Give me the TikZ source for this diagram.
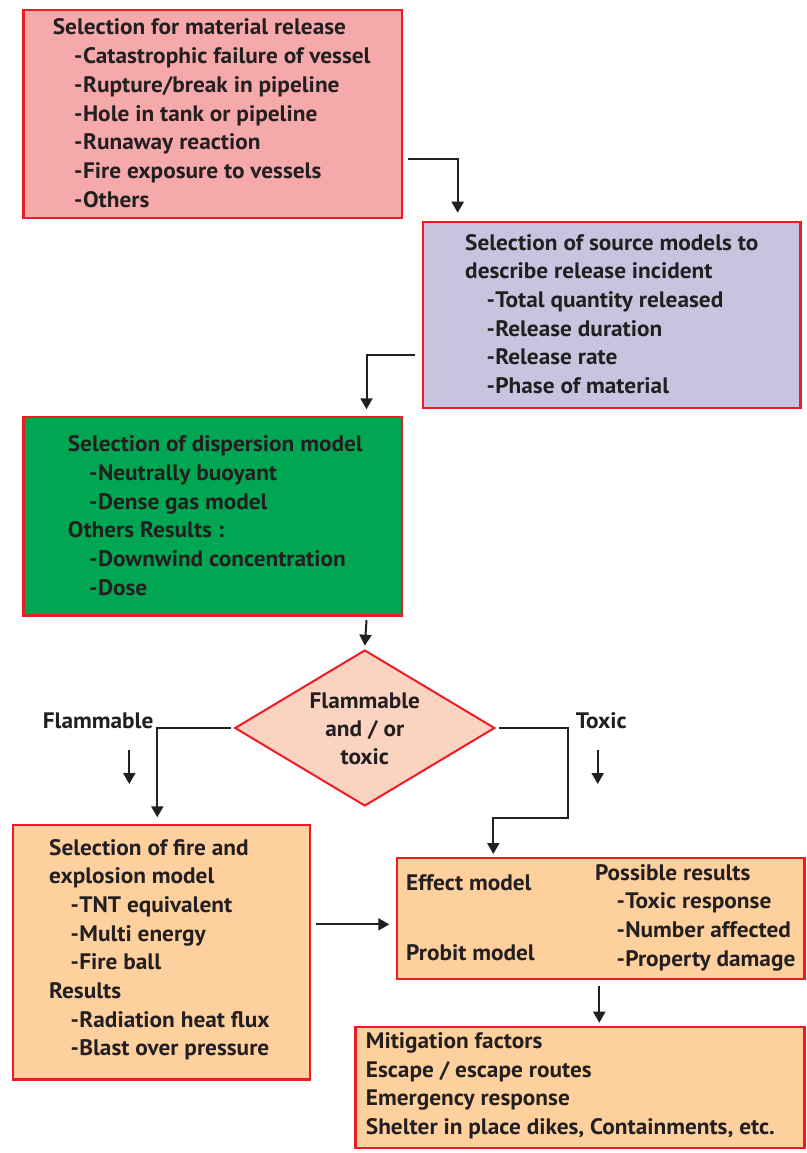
\documentclass[tikz,border=0pt]{standalone}
\usepackage{fontspec}
\setmainfont{PT Sans}[FakeStretch=1.04]
\usetikzlibrary{arrows.meta,shapes.geometric}
\definecolor{redb}{HTML}{ED1C24}
\definecolor{pinkc}{HTML}{F6A9AB}
\definecolor{lavc}{HTML}{C8C4E0}
\definecolor{greenc}{HTML}{00A651}
\definecolor{orc}{HTML}{FDD09E}
\definecolor{diac}{HTML}{FBD3C1}
\definecolor{txtc}{HTML}{231F20}
\newcommand\itm{\hspace*{21.3pt}-\kern0.5pt}
\begin{document}
\begin{tikzpicture}[x=1pt,y=-1pt,
  box/.style={draw=redb,line width=2.2pt,rectangle,inner sep=0pt,anchor=north west},
  txt/.style={inner sep=0pt,anchor=base west,text=txtc,font=\fontsize{22.4}{28.7}\selectfont\bfseries},
  arr/.style={draw=txtc,line width=2pt,-{Triangle[length=11pt,width=12pt]}}]
\useasboundingbox[fill=white] (0,0) rectangle (806,1153);
% boxes
\node[box,fill=pinkc,minimum width=378.7pt,minimum height=207.4pt] (b1) at (22.3,9.3) {};
\node[box,fill=lavc,minimum width=377.6pt,minimum height=186pt] (b2) at (421.7,220.7) {};
\node[box,fill=greenc,minimum width=378.7pt,minimum height=198.3pt] (b3) at (22.3,416) {};
\node[box,fill=orc,minimum width=297.3pt,minimum height=254.3pt] (b4) at (11.7,824) {};
\node[box,fill=orc,minimum width=407.6pt,minimum height=121pt] (b5) at (395.7,856.7) {};
\node[box,fill=orc,minimum width=449pt,minimum height=121pt] (b6) at (354.3,1025.7) {};
\node[diamond,draw=redb,line width=2pt,fill=diac,inner sep=0pt,minimum width=260pt,minimum height=156pt] (dia) at (364.8,728) {};
% texts
\node[txt] (t1) at (52.7,35) {\begin{tabular}[t]{@{}l@{}}Selection for material release\\
\itm Catastrophic failure of vessel\\ \itm Rupture/break in pipeline\\ \itm Hole in tank or pipeline\\
\itm Runaway reaction\\ \itm Fire exposure to vessels\\ \itm Others\end{tabular}};
\node[txt] (t2) at (465,250) {\begin{tabular}[t]{@{}l@{}}Selection of source models to\\ describe release incident\\
\itm Total quantity released\\ \itm Release duration\\ \itm Release rate\\ \itm Phase of material\end{tabular}};
\node[txt] (t3) at (67.7,451.7) {\begin{tabular}[t]{@{}l@{}}Selection of dispersion model\\
\itm Neutrally buoyant\\ \itm Dense gas model\\ Others Results :\\ \itm Downwind concentration\\ \itm Dose\end{tabular}};
\node[txt,font=\fontsize{22.4}{28}\selectfont\bfseries,anchor=base] (td) at (364.8,708) {\begin{tabular}[t]{@{}c@{}}Flammable\\ and / or\\ toxic\end{tabular}};
\node[txt] (lf) at (42.7,728.3) {Flammable};
\node[txt] (lt) at (575.7,728.3) {Toxic};
\node[txt] (t4) at (49,855) {\begin{tabular}[t]{@{}l@{}}Selection of fire and\\ explosion model\\
\itm TNT equivalent\\ \itm Multi energy\\ \itm Fire ball\\ Results\\ \itm Radiation heat flux\\ \itm Blast over pressure\end{tabular}};
\node[txt] (t5a) at (406,890.7) {Effect model};
\node[txt] (t5b) at (406,960) {Probit model};
\node[txt] (t5c) at (595,880) {\begin{tabular}[t]{@{}l@{}}Possible results\\
\itm Toxic response\\ \itm Number affected\\ \itm Property damage\end{tabular}};
\node[txt] (t6) at (365.7,1048.3) {\begin{tabular}[t]{@{}l@{}}Mitigation factors\\ Escape / escape routes\\ Emergency response\\ Shelter in place dikes, Containments, etc.\end{tabular}};
% connectors
\draw[arr] ([xshift=5pt,yshift=-44.5pt]b1.east) -| ([xshift=36pt,yshift=8pt]b2.north west);
\draw[arr] ([xshift=-6.7pt,yshift=-40.6pt]b2.west) -| ([xshift=-36.7pt,yshift=6.7pt]b3.north east);
\draw[arr] ([xshift=-36.7pt,yshift=-3.7pt]b3.south east) -- ([yshift=3.3pt]dia.north);
\draw[arr] ([xshift=-3pt]dia.west) -| ([xshift=145.6pt,yshift=6.7pt]b4.north west);
\coordinate (c1) at (568.3,818.3);
\draw[arr] ([xshift=3pt]dia.east) -| (c1) -| ([xshift=97.6pt,yshift=2.7pt]b5.north west);
\coordinate (fa1) at (129.3,750);
\coordinate (fa2) at (129.3,784);
\draw[arr] (fa1) -- (fa2);
\coordinate (ta1) at (597.7,750);
\coordinate (ta2) at (597.7,784);
\draw[arr] (ta1) -- (ta2);
\draw[arr] ([xshift=4.3pt,yshift=27.9pt]b4.east) coordinate (s45) -- ([xshift=-6.4pt]s45 -| b5.west);
\draw[arr] ([xshift=203.6pt,yshift=-6.3pt]b5.south west) -- ([xshift=245pt,yshift=3pt]b6.north west);
\end{tikzpicture}
\end{document}
